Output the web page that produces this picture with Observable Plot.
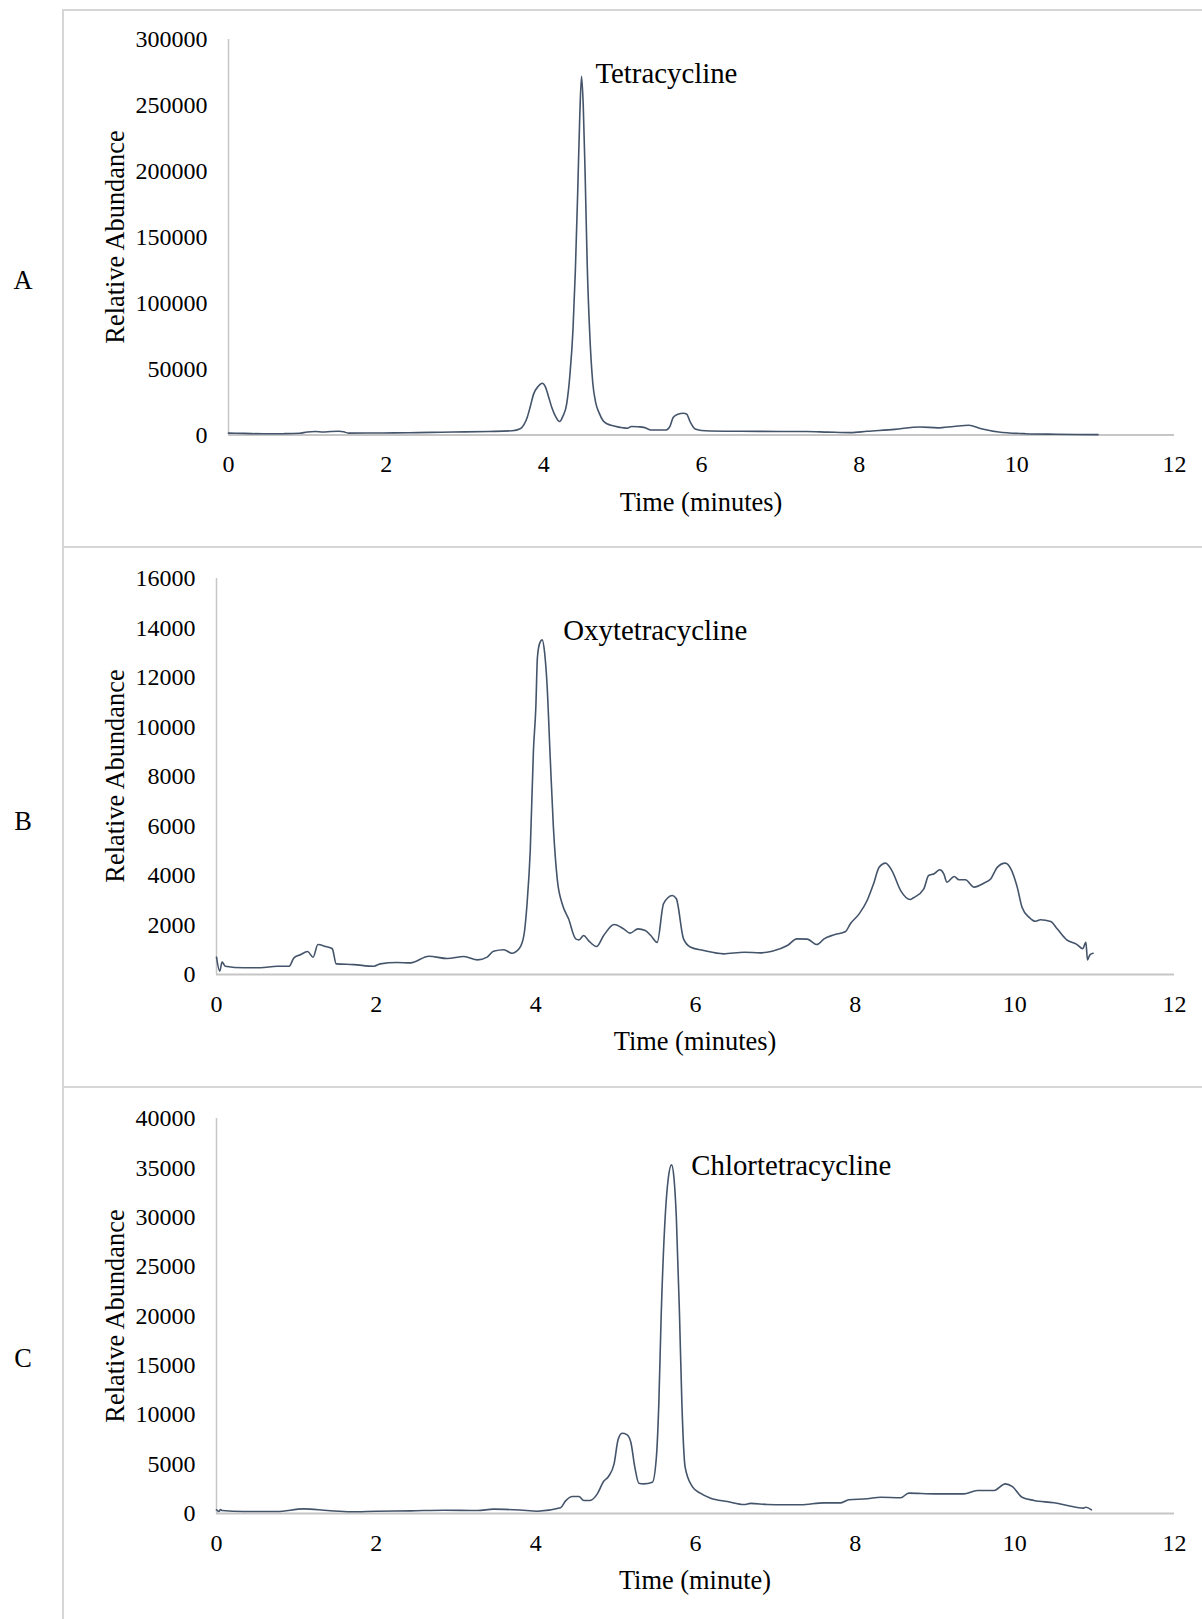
<!DOCTYPE html>
<html><head><meta charset="utf-8">
<script src="https://cdn.jsdelivr.net/npm/d3@7"></script>
<script src="https://cdn.jsdelivr.net/npm/@observablehq/plot@0.6"></script>
<style>
html,body{margin:0;padding:0;background:#fff;}
#page{position:relative;width:1202px;height:1619px;font-family:"Liberation Serif","Times New Roman",serif;color:#000;overflow:hidden;background:#fff;}
#page svg, #page svg text{font-family:"Liberation Serif","Times New Roman",serif !important;}
.panel{position:absolute;left:0;}
.hline{position:absolute;left:62px;right:0;height:2px;background:#d6d6d6;}
.vline{position:absolute;left:62px;width:2px;top:9px;bottom:0;background:#d6d6d6;}
.letter{position:absolute;font-size:26.4px;line-height:1;transform:translate(-50%,-50%);}
.ytitle{position:absolute;font-size:26.4px;line-height:1;white-space:nowrap;transform:translate(-50%,-50%) rotate(-90deg);}
.xtitle{position:absolute;font-size:26.4px;line-height:1;white-space:nowrap;transform:translate(-50%,-50%);}
</style></head>
<body>
<div id="page"></div>
<script>
// ---- Data ----
const xTicks = [0, 2, 4, 6, 8, 10, 12];

// Panel A: Tetracycline
const timeA = [0.00,0.20,0.45,0.70,0.90,1.00,1.10,1.20,1.30,1.40,1.46,1.52,1.80,2.10,2.40,2.70,3.00,3.30,3.60,3.70,3.75,3.79,3.83,3.87,3.93,3.98,4.02,4.06,4.10,4.15,4.20,4.24,4.29,4.33,4.37,4.40,4.43,4.455,4.478,4.50,4.525,4.55,4.58,4.62,4.66,4.70,4.75,4.80,4.89,5.00,5.06,5.11,5.20,5.28,5.36,5.55,5.60,5.64,5.70,5.77,5.81,5.86,5.92,6.00,6.11,6.50,7.00,7.33,7.60,7.89,8.10,8.45,8.77,9.00,9.20,9.39,9.55,9.77,10.11,10.50,11.03];
const abundA = [1400,1200,900,1000,1300,2300,2600,2300,2700,2900,2500,1400,1500,1600,1800,2100,2400,2700,3200,4700,8000,13500,22000,31000,37000,39300,36500,29000,21100,14000,10200,14000,23700,45000,80000,125000,185000,240000,272000,250000,195000,130000,80000,40000,24000,17000,11000,8500,6900,5500,5100,6400,6200,5600,3800,3800,6500,13300,15800,16500,16000,9500,4500,3400,3000,2800,2700,2600,2200,1800,2800,4300,6100,5400,6500,7400,4800,2300,1000,600,300];
const yTicksA = [0, 50000, 100000, 150000, 200000, 250000, 300000];

// Panel B: Oxytetracycline
const timeB = [0.00,0.04,0.07,0.11,0.34,0.55,0.76,0.91,0.97,1.05,1.14,1.21,1.27,1.37,1.45,1.50,1.72,1.97,2.05,2.26,2.43,2.66,2.89,3.10,3.27,3.39,3.47,3.60,3.70,3.79,3.85,3.89,3.93,3.97,4.00,4.02,4.05,4.08,4.11,4.14,4.18,4.22,4.27,4.33,4.41,4.50,4.54,4.60,4.66,4.76,4.85,4.98,5.10,5.18,5.28,5.37,5.44,5.52,5.60,5.71,5.76,5.85,5.94,6.10,6.35,6.61,6.81,6.96,7.15,7.27,7.40,7.52,7.61,7.73,7.88,7.94,8.05,8.15,8.23,8.30,8.38,8.46,8.57,8.69,8.73,8.86,8.92,8.99,9.06,9.11,9.15,9.24,9.30,9.38,9.49,9.61,9.70,9.78,9.88,9.95,10.03,10.09,10.18,10.26,10.32,10.45,10.53,10.65,10.78,10.85,10.89,10.91,10.94,10.98];
const abundB = [700,135,500,335,270,270,335,335,675,795,930,700,1212,1130,1040,430,400,335,430,485,470,740,645,727,590,700,940,1000,860,1040,1575,2860,5000,9050,10800,12820,13400,13520,13000,11740,8780,5950,3800,2860,2250,1440,1400,1575,1370,1130,1575,2020,1845,1670,1845,1780,1575,1300,2860,3190,3060,1440,1100,970,835,900,875,940,1170,1440,1430,1210,1440,1600,1740,2050,2450,2990,3660,4330,4500,4200,3390,3030,3100,3460,4000,4070,4230,4070,3730,3960,3830,3830,3530,3690,3870,4330,4500,4270,3530,2720,2310,2150,2210,2140,1845,1400,1210,1040,1300,590,795,860];
const yTicksB = [0, 2000, 4000, 6000, 8000, 10000, 12000, 14000, 16000];

// Panel C: Chlortetracycline
const timeC = [0.00,0.03,0.05,0.07,0.34,0.76,1.09,1.39,1.68,2.01,2.43,2.85,3.27,3.47,3.80,4.02,4.31,4.37,4.46,4.54,4.60,4.68,4.77,4.85,4.91,4.98,5.03,5.08,5.14,5.19,5.24,5.29,5.35,5.46,5.51,5.54,5.57,5.62,5.66,5.70,5.73,5.76,5.80,5.83,5.87,5.96,6.06,6.19,6.40,6.61,6.69,6.90,7.11,7.32,7.61,7.82,7.92,8.15,8.32,8.57,8.67,8.99,9.36,9.53,9.74,9.88,9.97,10.09,10.24,10.49,10.66,10.86,10.89,10.96];
const abundC = [375,200,400,300,200,200,470,300,170,235,270,335,300,440,350,235,575,1250,1720,1720,1320,1320,1990,3270,3750,5030,7460,8130,7990,7220,4690,3070,3000,3170,5700,11000,20000,30000,34000,35300,34000,30000,20000,11000,4700,2730,2060,1550,1215,910,1030,910,880,880,1080,1080,1390,1490,1650,1590,2060,1990,1990,2330,2330,3000,2730,1650,1320,1080,810,540,640,375];
const yTicksC = [0, 5000, 10000, 15000, 20000, 25000, 30000, 35000, 40000];

// Peak annotations
const peakNames = ["Tetracycline", "Oxytetracycline", "Chlortetracycline"];
const peakTimes = [4.655, 4.344, 5.948];
const peakValues = [274200, 13900, 35260];

const panelLetters = ["A", "B", "C"];
const xTitles = ["Time (minutes)", "Time (minutes)", "Time (minute)"];
const yTitle = "Relative Abundance";

// ---- Build ----
const page = document.getElementById("page");
const zip = (ts, vs) => ts.map((t, i) => ({t, v: vs[i]}));

const panels = [
  {data: zip(timeA, abundA), yTicks: yTicksA, top: 0, height: 547, mt: 39, mb: 112.5, ml: 228},
  {data: zip(timeB, abundB), yTicks: yTicksB, top: 547, height: 540, mt: 31, mb: 113, ml: 216},
  {data: zip(timeC, abundC), yTicks: yTicksC, top: 1087, height: 532, mt: 31, mb: 106, ml: 216}
];

panels.forEach((p, i) => {
  const yMax = p.yTicks[p.yTicks.length - 1];
  const chart = Plot.plot({
    width: 1202,
    height: p.height,
    marginTop: p.mt,
    marginBottom: p.mb,
    marginLeft: p.ml,
    marginRight: 28,
    style: {fontFamily: "'Liberation Serif', 'Times New Roman', serif", fontSize: "24px", color: "#000", background: "transparent", overflow: "visible"},
    x: {domain: [0, 12], ticks: xTicks, tickSize: 0, tickPadding: 20, tickFormat: d => String(d), label: null},
    y: {domain: [0, yMax], ticks: p.yTicks, tickSize: 0, tickPadding: 21, tickFormat: d => String(d), label: null},
    marks: [
      Plot.ruleY([0], {stroke: "#c6c6c6", strokeWidth: 2}),
      Plot.ruleX([0], {stroke: "#c6c6c6", strokeWidth: 1.5}),
      Plot.line(p.data, {x: "t", y: "v", stroke: "#44546a", strokeWidth: 1.6, curve: "monotone-x"}),
      Plot.text([{t: peakTimes[i], v: peakValues[i], name: peakNames[i]}], {x: "t", y: "v", text: "name", textAnchor: "start", fontSize: 28.8, fill: "#000"})
    ]
  });
  chart.classList.add("panel");
  chart.style.top = p.top + "px";
  chart.style.position = "absolute";
  chart.style.left = "0px";
  page.appendChild(chart);

  const frameTop = p.top + p.mt;
  const frameBottom = p.top + p.height - p.mb;
  const frameMidX = (p.ml + (1202 - 28)) / 2;

  const xt = document.createElement("div");
  xt.className = "xtitle";
  xt.textContent = xTitles[i];
  xt.style.left = frameMidX + "px";
  xt.style.top = (frameBottom + 67) + "px";
  page.appendChild(xt);

  const yt = document.createElement("div");
  yt.className = "ytitle";
  yt.textContent = yTitle;
  yt.style.left = "115px";
  yt.style.top = ((frameTop + frameBottom) / 2) + "px";
  page.appendChild(yt);

  const lt = document.createElement("div");
  lt.className = "letter";
  lt.textContent = panelLetters[i];
  lt.style.left = "23px";
  lt.style.top = [280, 821, 1358][i] + "px";
  page.appendChild(lt);
});

// frame lines
[9, 546, 1086].forEach(y => {
  const h = document.createElement("div");
  h.className = "hline";
  h.style.top = y + "px";
  page.appendChild(h);
});
const v = document.createElement("div");
v.className = "vline";
page.appendChild(v);
</script>
</body></html>
